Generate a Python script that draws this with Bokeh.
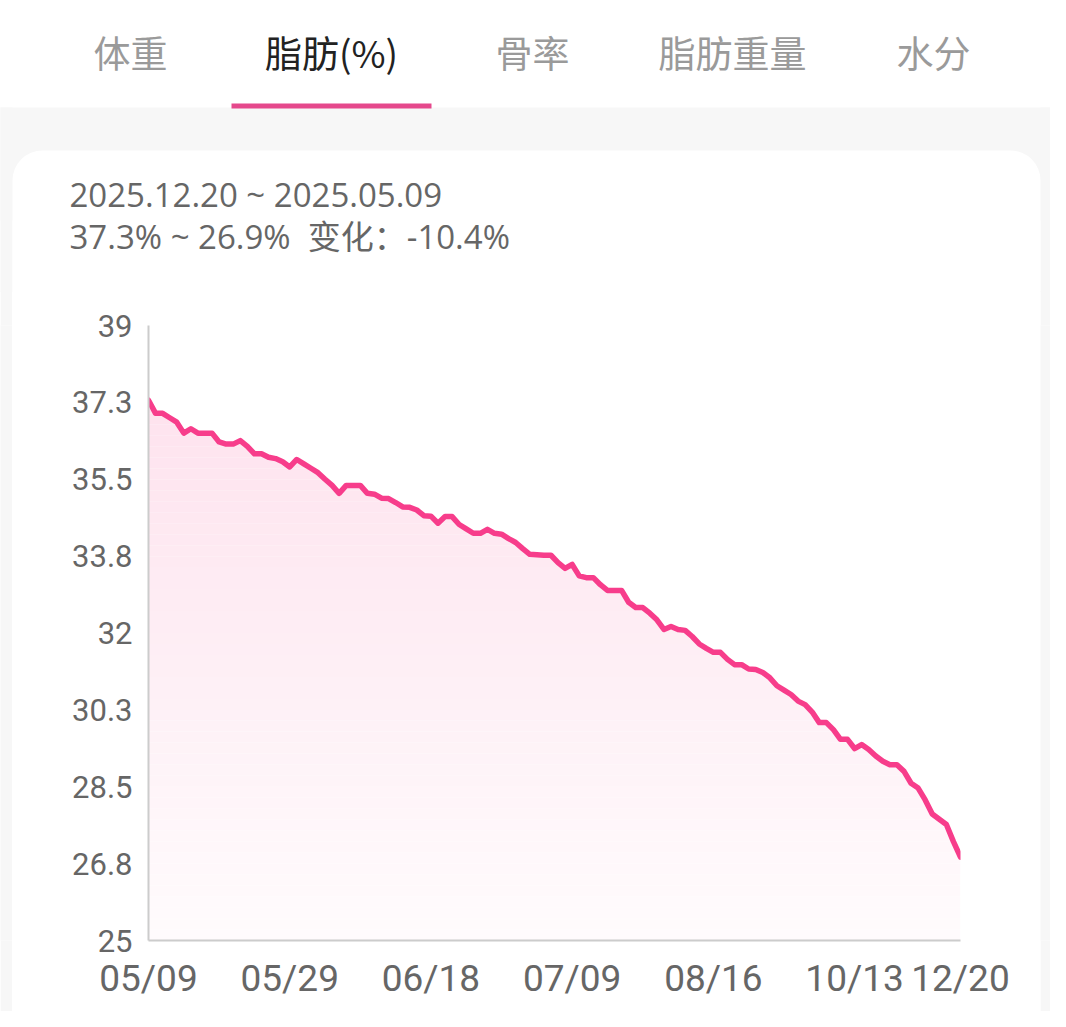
import numpy as np
from bokeh.plotting import figure
from bokeh.layouts import column, row
from bokeh.models import ColumnDataSource, Range1d, FixedTicker, BoxAnnotation, Label
from bokeh.embed import file_html
from bokeh.resources import INLINE

# ---------------- data ----------------
tabs = ["体重", "脂肪(%)", "骨率", "脂肪重量", "水分"]
active_tab = 1
header_line1 = "2025.12.20 ~ 2025.05.09"
header_line2 = "37.3% ~ 26.9%\u00a0\u00a0变化：-10.4%"

fat_pct = [
    37.3, 37.0, 37.0, 36.9, 36.8, 36.55, 36.65, 36.55, 36.55, 36.55,
    36.35, 36.3, 36.3, 36.38, 36.25, 36.08, 36.08, 36.0, 35.97, 35.9,
    35.78, 35.95, 35.85, 35.75, 35.65, 35.5, 35.36, 35.18, 35.36, 35.36,
    35.36, 35.18, 35.16, 35.07, 35.06, 34.97, 34.87, 34.86, 34.8, 34.67,
    34.66, 34.5, 34.65, 34.65, 34.47, 34.37, 34.27, 34.27, 34.36, 34.27,
    34.25, 34.15, 34.06, 33.92, 33.79, 33.78, 33.77, 33.77, 33.6, 33.47,
    33.56, 33.3, 33.26, 33.26, 33.1, 32.97, 32.97, 32.97, 32.7, 32.58,
    32.58, 32.45, 32.3, 32.08, 32.15, 32.08, 32.06, 31.92, 31.75, 31.65,
    31.56, 31.56, 31.4, 31.28, 31.28, 31.18, 31.17, 31.1, 30.98, 30.8,
    30.7, 30.6, 30.45, 30.37, 30.2, 29.96, 29.96, 29.8, 29.58, 29.58,
    29.37, 29.46, 29.35, 29.2, 29.08, 29.0, 29.0, 28.85, 28.58, 28.47,
    28.2, 27.88, 27.76, 27.64, 27.25, 26.9,
]
x_tick_idx = [0, 20, 40, 60, 80, 100, 115]
x_tick_labels = ["05/09", "05/29", "06/18", "07/09", "08/16", "10/13", "12/20"]
y_ticks = [25, 26.75, 28.5, 30.25, 32, 33.75, 35.5, 37.25, 39]
y_tick_labels = ["25", "26.8", "28.5", "30.3", "32", "33.8", "35.5", "37.3", "39"]
y_min, y_max = 25, 39

# ---------------- styles ----------------
PINK = "#f73d8b"
TAB_PINK = "#e5488c"
BG_GRAY = "#f7f7f7"
TEXT_GRAY = "#666666"
AXIS_GRAY = "#cccccc"
CJK_FONT = "Noto Sans CJK SC"
MIX_FONT = "'Open Sans', 'Noto Sans CJK SC'"

PAGE_W, PAGE_H = 1050, 1011
HEAD_H = 290
OVERLAP = 2
CARD_L, CARD_R, CARD_T = 12, 1040, 150
FRAME_L, FRAME_R, FRAME_T, FRAME_B = 148, 960, 325, 940

n = len(fat_pct)
idx = np.arange(n)
vals = np.array(fat_pct)


def blank(width, height, color, border):
    f = figure(width=width, height=height, x_range=Range1d(0, width), y_range=Range1d(height, 0),
               min_border=0, x_axis_location=None, y_axis_location=None,
               toolbar_location=None, output_backend="svg")
    f.background_fill_color = color
    f.border_fill_color = border
    f.outline_line_color = None
    f.xgrid.visible = False
    f.ygrid.visible = False
    return f


def box(fig, l, r, t, b, color, level="underlay", radius=0):
    fig.add_layout(BoxAnnotation(left=l, right=r, top=t, bottom=b, fill_color=color,
                                 fill_alpha=1, line_color=None, border_radius=radius, level=level))


# ---------------- header (tabs + summary) ----------------
head = blank(PAGE_W, HEAD_H + OVERLAP, "white", "white")
box(head, -10, PAGE_W + 10, 107, 220, BG_GRAY)               # gray band behind card top
box(head, -10, CARD_L, 107, HEAD_H + 20, BG_GRAY)            # left gutter
box(head, CARD_R, PAGE_W + 10, 107, HEAD_H + 20, BG_GRAY)    # right gutter
box(head, CARD_L, CARD_R, CARD_T, HEAD_H + 200, "white", radius=30)  # card
box(head, 231, 431, 103, 108, TAB_PINK, level="overlay")     # active tab underline

tab_centers = [130, 331, 532, 732, 933]
for i, (t, cx) in enumerate(zip(tabs, tab_centers)):
    head.add_layout(Label(x=cx, y=51, text=t, text_align="center", text_baseline="middle",
                          text_font=CJK_FONT, text_font_size="37px",
                          text_color="#222222" if i == active_tab else "#9a9a9a"))

head.add_layout(Label(x=69, y=194, text=header_line1, text_align="left", text_baseline="middle",
                      text_font=MIX_FONT, text_font_size="33px", text_color=TEXT_GRAY))
head.add_layout(Label(x=69, y=236, text=header_line2, text_align="left", text_baseline="middle",
                      text_font=MIX_FONT, text_font_size="33px", text_color=TEXT_GRAY))

# ---------------- chart ----------------
p = figure(
    frame_width=FRAME_R - FRAME_L, frame_height=FRAME_B - FRAME_T,
    min_border_left=FRAME_L - CARD_L, min_border_right=CARD_R - FRAME_R,
    min_border_top=FRAME_T - HEAD_H, min_border_bottom=PAGE_H - FRAME_B,
    x_range=Range1d(0, n - 1), y_range=Range1d(y_min, y_max),
    output_backend="svg", toolbar_location=None,
)
p.background_fill_color = "white"
p.border_fill_color = "white"
p.outline_line_color = None
p.xgrid.visible = False
p.ygrid.visible = False


# gradient area under the line (solid bands, darker toward top)
def blend(f):
    r, g, b = 0xf6, 0x40, 0x8b
    return "#%02x%02x%02x" % (round(255 - f * (255 - r)), round(255 - f * (255 - g)),
                              round(255 - f * (255 - b)))


levels = np.arange(y_min, 37.6, 0.25)
for lo, hi in zip(levels[:-1], levels[1:]):
    f = 0.02 + 0.13 * (lo - y_min) / (37.3 - y_min)
    src = ColumnDataSource(dict(x=idx, y1=np.minimum(vals, lo), y2=np.minimum(vals, hi)))
    p.varea(x="x", y1="y1", y2="y2", source=src, fill_color=blend(f), fill_alpha=1)

src = ColumnDataSource(dict(idx=idx, val=vals))
p.line(x="idx", y="val", source=src, line_color=PINK, line_width=5.5,
       line_join="round", line_cap="round")

for ax in (p.xaxis[0], p.yaxis[0]):
    ax.axis_line_color = AXIS_GRAY
    ax.axis_line_width = 2
    ax.major_tick_line_color = None
    ax.minor_tick_line_color = None
    ax.major_label_text_color = TEXT_GRAY
    ax.major_label_text_font = "Roboto"

p.yaxis.ticker = FixedTicker(ticks=y_ticks)
p.yaxis.major_label_overrides = {t: l for t, l in zip(y_ticks, y_tick_labels)}
p.yaxis.major_label_text_font_size = "31px"
p.yaxis.major_label_standoff = 10

p.xaxis.ticker = FixedTicker(ticks=x_tick_idx)
p.xaxis.major_label_overrides = {t: l for t, l in zip(x_tick_idx, x_tick_labels)}
p.xaxis.major_label_text_font_size = "37px"
p.xaxis.major_label_standoff = 10

left_strip = blank(CARD_L, PAGE_H - HEAD_H, BG_GRAY, BG_GRAY)
right_strip = blank(PAGE_W - CARD_R, PAGE_H - HEAD_H, BG_GRAY, BG_GRAY)

body = row(left_strip, p, right_strip, spacing=0, styles={"margin-top": f"-{OVERLAP}px"})
layout = column(head, body, spacing=0)
open("out.html", "w").write(file_html(layout, INLINE))
